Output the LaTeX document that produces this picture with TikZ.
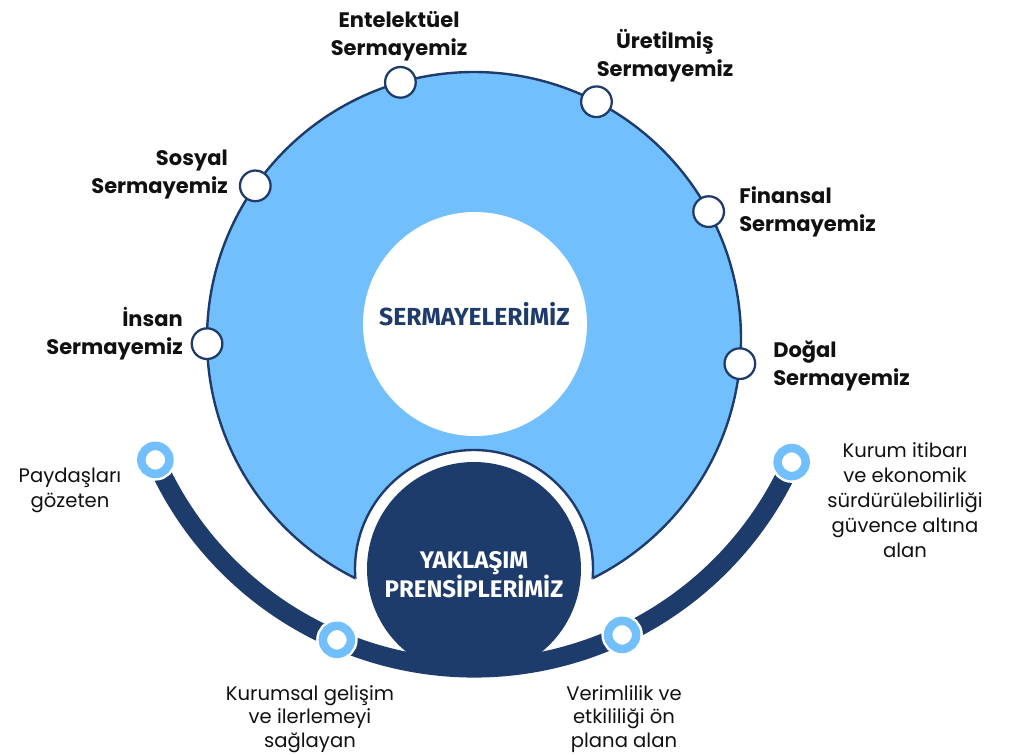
\documentclass[tikz,border=0pt]{standalone}
\usepackage{fontspec}
\setmainfont{Poppins}
\newfontfamily\hubfont{Fira Sans}
\definecolor{navy}{HTML}{1E3C6B}
\definecolor{skyblue}{HTML}{72BFFD}
\definecolor{ink}{HTML}{111111}
\def\bigr{267}
\def\ringr{119}
\def\hubr{107}
\def\corer{112}
\def\arcr{348}
\begin{document}
\begin{tikzpicture}[x=0.75pt,y=0.75pt,
        capdot/.style={circle,draw=navy,line width=1.7pt,fill=white,
            minimum size=23pt,inner sep=0pt},
        ringdot/.style={circle,draw=skyblue,line width=6.4pt,fill=white,
            minimum size=21pt,inner sep=0pt,
            preaction={draw=white,line width=10.1pt}},
        caplabel/.style={text=ink,inner sep=0pt,
            font=\bfseries\fontsize{15.75}{21}\selectfont},
        ruletext/.style={text=ink,inner sep=0pt,align=center,
            font=\fontsize{14.7}{18.75}\selectfont},
        hubtext/.style={inner sep=0pt,align=center,
            font=\hubfont\bfseries\fontsize{18}{21.75}\selectfont},
    ]
    \useasboundingbox (0,0) rectangle (1009,-754);
    \coordinate (capctr) at (474,-339);
    \coordinate (hubctr) at (474,-569);
    \coordinate (corectr) at (475,-324);
    \coordinate (arcctr) at (474,-320);

    % capitals disk, cut by the ring of the hub
    \draw[navy,line width=1.8pt,fill=skyblue] (capctr) circle (\bigr);
    \fill[white] (hubctr) circle (\ringr);
    \begin{scope}
        \clip (capctr) circle (\bigr);
        \draw[navy,line width=1.8pt] (hubctr) circle (\ringr);
    \end{scope}

    % principles arc
    \draw[navy,line width=14.25pt] ([shift={(203.7:\arcr)}]arcctr)
        arc[start angle=203.7,end angle=336,radius=\arcr];
    \fill[navy] (hubctr) circle (\hubr);
    \fill[white] (corectr) circle (\corer);

    \node[hubtext,text=navy,anchor=base,font=\hubfont\bfseries\fontsize{18.5}{22}\selectfont]
        (core) at (474.5,-325) {SERMAYELERİMİZ};
    \node[hubtext,text=white,anchor=base] (hub) at (474,-597) {YAKLAŞIM\\PRENSİPLERİMİZ};

    % capitals
    \node[capdot] (insan) at ([shift={(181:\bigr)}]capctr) {};
    \node[capdot] (sosyal) at ([shift={(145:\bigr)}]capctr) {};
    \node[capdot] (entel) at ([shift={(106:\bigr)}]capctr) {};
    \node[capdot] (uretil) at ([shift={(62.7:\bigr)}]capctr) {};
    \node[capdot] (finans) at ([shift={(28.5:\bigr)}]capctr) {};
    \node[capdot] (dogal) at ([shift={(-5.3:\bigr)}]capctr) {};

    \node[caplabel,align=right,anchor=base east] (insanlbl) at (183,-354) {İnsan\\Sermayemiz};
    \node[caplabel,align=right,anchor=base east] (sosyallbl) at (228,-193) {Sosyal\\Sermayemiz};
    \node[caplabel,align=center,anchor=base] (entellbl) at (399,-55) {Entelektüel\\Sermayemiz};
    \node[caplabel,align=center,anchor=base] (uretillbl) at (665,-76) {Üretilmiş\\Sermayemiz};
    \node[caplabel,align=left,anchor=base west] (finanslbl) at (739,-231) {Finansal\\Sermayemiz};
    \node[caplabel,align=left,anchor=base west] (dogallbl) at (773,-385) {Doğal\\Sermayemiz};

    % principles
    \node[ringdot] (paydas) at ([shift={(203.7:\arcr)}]arcctr) {};
    \node[ringdot] (kurumsal) at ([shift={(246.8:\arcr)}]arcctr) {};
    \node[ringdot] (verim) at ([shift={(295.2:\arcr)}]arcctr) {};
    \node[ringdot] (itibar) at ([shift={(335.9:\arcr)}]arcctr) {};

    \node[ruletext,anchor=base] (paydaslbl) at (70,-507) {Paydaşları\\gözeten};
    \node[ruletext,anchor=base] (itibarlbl) at (905,-557)
        {Kurum itibarı\\ve ekonomik\\sürdürülebilirliği\\güvence altına\\alan};
    \node[ruletext,anchor=base,font=\fontsize{14.7}{17.6}\selectfont] (kurumsallbl) at (310,-747)
        {Kurumsal gelişim\\ve ilerlemeyi\\sağlayan};
    \node[ruletext,anchor=base,font=\fontsize{14.7}{17.6}\selectfont] (verimlbl) at (624,-747)
        {Verimlilik ve\\etkililiği ön\\plana alan};
\end{tikzpicture}
\end{document}
